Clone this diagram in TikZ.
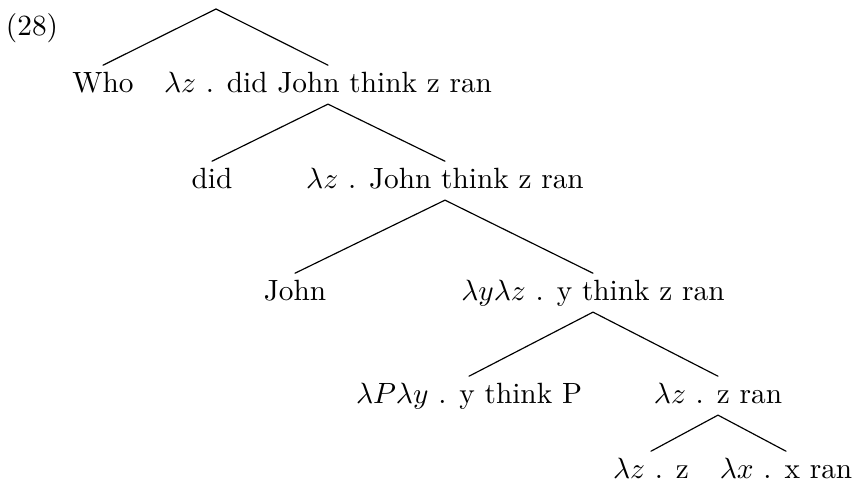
\documentclass[tikz,border=0pt]{standalone}
\begin{document}
		\begin{tikzpicture}[x=0.3413pt,y=-0.3413pt,line join=round,line cap=round,every node/.style={font=\normalsize},lbl/.style={anchor=base,inner sep=2pt,text height=6.94pt,text depth=1.94pt}]
			\useasboundingbox (0,0) rectangle (854,480);
			\node[anchor=base,inner sep=0pt] (ex) at (32,35) {(28)};
			% cây
			\coordinate (root) at (216,9);
			\node[lbl] (who) at (103,92) {Who};
			\node[lbl] (q1) at (328,92) {$\lambda z$ . did John think z ran};
			\node[lbl] (did) at (212,188) {did};
			\node[lbl] (q2) at (445,188) {$\lambda z$ . John think z ran};
			\node[lbl] (john) at (295,300) {John};
			\node[lbl] (q3) at (593,300) {$\lambda y\lambda z$ . y think z ran};
			\node[lbl] (think) at (469,403) {$\lambda P\lambda y$ . y think P};
			\node[lbl] (q4) at (718,403) {$\lambda z$ . z ran};
			\node[lbl] (zz) at (651,478) {$\lambda z$ . z};
			\node[lbl] (xran) at (786,478) {$\lambda x$ . x ran};
			\draw[line width=0.4pt] (who.north) -- (root) -- (q1.north);
			\draw[line width=0.4pt] (did.north) -- (q1.south) -- (q2.north);
			\draw[line width=0.4pt] (john.north) -- (q2.south) -- (q3.north);
			\draw[line width=0.4pt] (think.north) -- (q3.south) -- (q4.north);
			\draw[line width=0.4pt] (zz.north) -- (q4.south) -- (xran.north);
		\end{tikzpicture}
\end{document}
